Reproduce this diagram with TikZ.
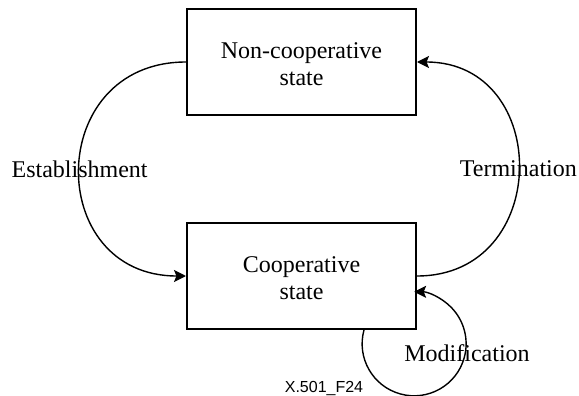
\documentclass[tikz,border=0pt]{standalone}
\usepackage{fontspec}
\setmainfont{Liberation Serif}
\newfontfamily\tagfont{Liberation Sans}
\usetikzlibrary{arrows.meta,positioning}
\tikzset{
    %Define standard arrow tip
    >={Stealth[length=6pt,width=6pt,inset=1.2pt]},
    %Define style for state boxes
    statebox/.style={
           rectangle,
           draw=black, line width=1pt,
           minimum width=114.5pt,
           minimum height=53pt,
           text height=24pt,
           align=center,
           font=\fontsize{12}{13.5}\selectfont},
    % Define arrow style
    trans/.style={
           ->,
           line width=0.7pt},
    translabel/.style={
           font=\fontsize{12}{13.5}\selectfont}
}

\begin{document}
\begin{tikzpicture}[node distance=53pt]
 \useasboundingbox (-150.75pt,31pt) rectangle (138.75pt,-167pt);
 %nodes
\node[statebox](noncoop){Non-cooperative\\state};
\node[statebox, below=of noncoop](coop){Cooperative\\state};
\coordinate (modstart) at ([xshift=31.25pt]coop.south);
 %transitions
\draw[trans] (noncoop.west) to[out=180,in=180,looseness=1.7]
    node[translabel]{Establishment} (coop.west);
\draw[trans] (coop.east) to[out=0,in=0,looseness=1.62]
    node[translabel]{Termination} (noncoop.east);
\draw[trans] (modstart) arc[start angle=164.6,end angle=450,radius=26pt];
\node[translabel] (modlabel) at ([xshift=82.75pt,yshift=-11.5pt]coop.south) {Modification};
 %figure tag
\node[font=\tagfont\fontsize{8}{9.6}\selectfont] (tag) at ([xshift=11.25pt,yshift=-29.5pt]coop.south) {X.501\_F24};
\end{tikzpicture}
\end{document}
